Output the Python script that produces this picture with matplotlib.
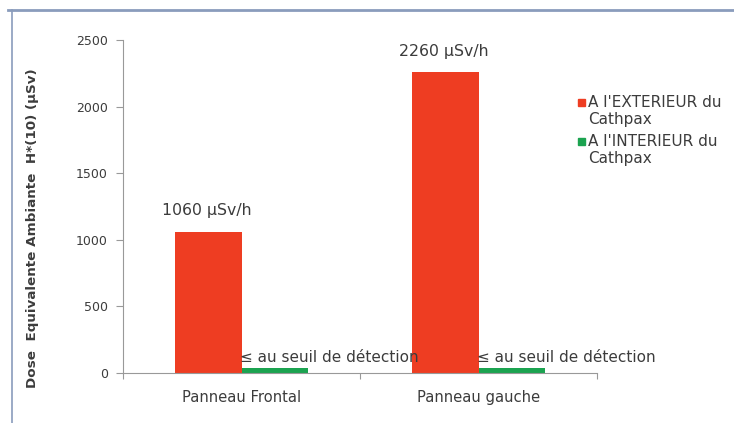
import matplotlib.pyplot as plt
from matplotlib.patches import Rectangle
from matplotlib.lines import Line2D

categories = ['Panneau Frontal', 'Panneau gauche']
exterieur = [1060, 2260]
interieur = [40, 40]
ext_labels = ['1060 µSv/h', '2260 µSv/h']
int_labels = ['≤ au seuil de détection', '≤ au seuil de détection']
series_names = ["A l'EXTERIEUR du\nCathpax", "A l'INTERIEUR du\nCathpax"]
colors = ['#ee3d22', '#1ba350']
yticks = [0, 500, 1000, 1500, 2000, 2500]

plt.rcParams['font.family'] = ['DejaVu Sans']
txt = '#3c3c3c'

fig = plt.figure(figsize=(7.34, 4.23), dpi=100)
ax = fig.add_axes([123 / 734, 1 - 373 / 423, 474 / 734, 333 / 423])

# frame lines around the chart (top and left only)
fig.add_artist(Line2D([8 / 734, 1], [1 - 10 / 423] * 2, color='#8a9cbc', lw=2))
fig.add_artist(Line2D([12 / 734] * 2, [0, 1 - 10 / 423], color='#8a9cbc', lw=1.2))

w = 0.28
x = list(range(len(categories)))
ax.bar([i - w / 2 for i in x], exterieur, w, color=colors[0])
ax.bar([i + w / 2 for i in x], interieur, w, color=colors[1])

for i, v in enumerate(exterieur):
    ax.annotate(ext_labels[i], (i - w / 2, v), xytext=(-1, 15), textcoords='offset points',
                ha='center', va='center', fontsize=11.3, color=txt)
for i, v in enumerate(interieur):
    ax.annotate(int_labels[i], (i, v), xytext=(-1, 7), textcoords='offset points',
                ha='left', va='center', fontsize=11, color=txt)

ax.set_xlim(-0.5, 1.5)
ax.set_ylim(0, 2500)
ax.set_yticks(yticks)
ax.set_xticks([-0.5, 0.5, 1.5])
ax.set_xticklabels([])
ax.set_xticks(x, minor=True)
ax.set_xticklabels(categories, minor=True)
ax.tick_params(axis='x', which='minor', length=0, pad=12, labelsize=10.6, labelcolor=txt)
ax.tick_params(axis='x', which='major', length=4, direction='out', color='#999999')
ax.tick_params(axis='y', length=5, direction='out', color='#999999', pad=6,
               labelsize=9, labelcolor=txt)
for s in ['top', 'right']:
    ax.spines[s].set_visible(False)
for s in ['left', 'bottom']:
    ax.spines[s].set_color('#999999')

fig.text(33 / 734, 1 - 228 / 423, 'Dose  Equivalente Ambiante  H*(10) (µSv)',
         rotation=90, ha='center', va='center', fontsize=9.7, fontweight='bold', color=txt)

# legend
for k, name in enumerate(series_names):
    yk = 103 + k * 39
    fig.add_artist(Rectangle((578 / 734, 1 - (yk + 3.5) / 423), 7 / 734, 7 / 423,
                             color=colors[k], transform=fig.transFigure))
    fig.text(588 / 734, 1 - (yk - 8) / 423, name, ha='left', va='top',
             fontsize=11, color=txt, linespacing=1.15)

fig.savefig('out.png', dpi=100, facecolor='white')
